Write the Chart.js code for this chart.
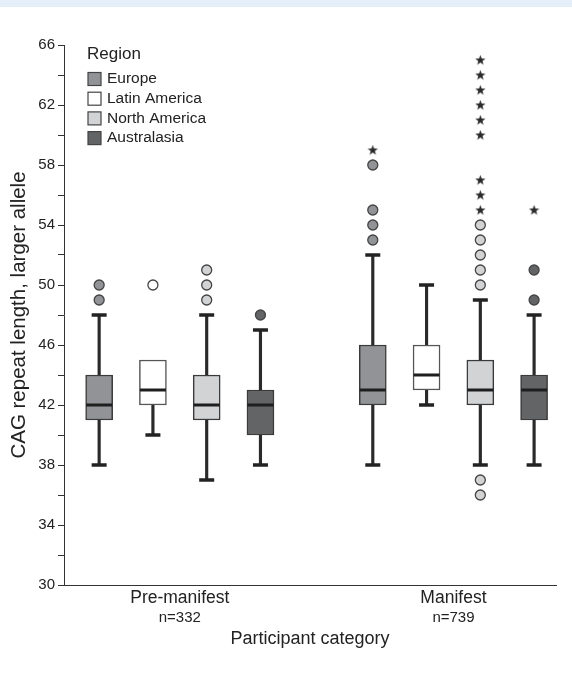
<!DOCTYPE html>
<html><head><meta charset="utf-8">
<script src="https://cdn.jsdelivr.net/npm/chart.js@4"></script>
<style>
html,body{margin:0;padding:0;background:#fff;}
#band{position:absolute;left:0;top:0;width:572px;height:7px;background:#e5eff9;}
#wrap{position:absolute;left:0;top:0;width:572px;height:677px;}
</style></head><body>
<div id="wrap"><canvas id="c" width="572" height="677"></canvas></div>
<div id="band"></div>
<script>
// ---- data ----
const categories = ['Pre-manifest', 'Manifest'];
const sampleSizes = ['n=332', 'n=739'];
const regions = ['Europe', 'Latin America', 'North America', 'Australasia'];
const yTicks = [30, 34, 38, 42, 46, 50, 54, 58, 62, 66];

// five-number summaries per category: [min, q1, median, q3, max]
const europeFive = [[38, 41, 42, 44, 48], [38, 42, 43, 46, 52]];
const latinFive = [[40, 42, 43, 45, 45], [42, 43, 44, 46, 50]];
const northFive = [[37, 41, 42, 44, 48], [38, 42, 43, 45, 49]];
const australFive = [[38, 40, 42, 43, 47], [38, 41, 43, 44, 48]];

// outliers (circles) per category
const europeOutliers = [[49, 50], [53, 54, 55, 58]];
const latinOutliers = [[50], []];
const northOutliers = [[49, 50, 51], [36, 37, 50, 51, 52, 53, 54]];
const australOutliers = [[48], [49, 51]];

// extreme values (stars) per category
const europeExtremes = [[], [59]];
const latinExtremes = [[], []];
const northExtremes = [[], [55, 56, 57, 60, 61, 62, 63, 64, 65]];
const australExtremes = [[], [55]];

// ---- styling / layout ----
const fiveByRegion = [europeFive, latinFive, northFive, australFive];
const outByRegion = [europeOutliers, latinOutliers, northOutliers, australOutliers];
const extByRegion = [europeExtremes, latinExtremes, northExtremes, australExtremes];
const regionColors = ['#929396', '#ffffff', '#d2d3d5', '#636466'];
const FONT = "'Liberation Sans', Arial, Helvetica, sans-serif";
const STEP = 0.1965;
const pos = (c, r) => c + (r - 1.5) * STEP;

// star point image
const star = document.createElement('canvas');
star.width = 11; star.height = 11;
(function () {
  const g = star.getContext('2d');
  g.fillStyle = '#2a2a2a';
  g.beginPath();
  for (let i = 0; i < 10; i++) {
    const rad = i % 2 === 0 ? 5.4 : 2.2;
    const a = -Math.PI / 2 + i * Math.PI / 5;
    const px = 5.5 + rad * Math.cos(a), py = 5.8 + rad * Math.sin(a);
    if (i === 0) g.moveTo(px, py); else g.lineTo(px, py);
  }
  g.closePath();
  g.fill();
})();

const datasets = [];
const whiskerData = [];
const capData = [];
const medianData = [];
fiveByRegion.forEach((five, r) => {
  five.forEach((f, c) => {
    if (f[0] !== f[1]) {
      whiskerData.push({x: pos(c, r), y: [f[0], f[1]]});
      capData.push({x: pos(c, r), y: f[0]});
    }
    if (f[4] !== f[3]) {
      whiskerData.push({x: pos(c, r), y: [f[3], f[4]]});
      capData.push({x: pos(c, r), y: f[4]});
    }
    medianData.push({x: pos(c, r), y: f[2]});
  });
});
datasets.push({type: 'bar', label: 'whiskers', data: whiskerData, backgroundColor: '#2a2a2a',
  barThickness: 2.5, grouped: false, order: 10});
datasets.push({type: 'scatter', label: 'caps', data: capData, pointStyle: 'line', radius: 7.5,
  borderWidth: 3.5, borderColor: '#222', order: 9});
fiveByRegion.forEach((five, r) => {
  datasets.push({type: 'bar', label: regions[r],
    data: five.map((f, c) => ({x: pos(c, r), y: [f[1], f[3]]})),
    backgroundColor: regionColors[r], borderColor: r === 1 ? '#555' : '#3a3a3a', borderWidth: 1.5,
    borderSkipped: false, barThickness: 27, grouped: false, order: 8});
});
datasets.push({type: 'scatter', label: 'medians', data: medianData, pointStyle: 'line', radius: 13,
  borderWidth: 3, borderColor: '#1e1e1e', order: 7});
outByRegion.forEach((outs, r) => {
  const d = [];
  outs.forEach((vals, c) => vals.forEach(v => d.push({x: pos(c, r), y: v})));
  datasets.push({type: 'scatter', label: regions[r] + ' outliers', data: d, pointStyle: 'circle',
    radius: 5, borderWidth: 1.3, borderColor: '#444', backgroundColor: regionColors[r], order: 6});
});
{
  const d = [];
  extByRegion.forEach((exts, r) => exts.forEach((vals, c) => vals.forEach(v => d.push({x: pos(c, r), y: v}))));
  datasets.push({type: 'scatter', label: 'extremes', data: d, pointStyle: star, order: 5});
}

const legendPlugin = {
  id: 'regionLegend',
  afterDraw(chart) {
    const ctx = chart.ctx;
    ctx.save();
    ctx.textBaseline = 'middle';
    ctx.textAlign = 'left';
    ctx.fillStyle = '#222';
    ctx.font = '17px ' + FONT;
    ctx.fillText('Region', 87, 54);
    regions.forEach((name, i) => {
      const y = 79 + i * 19.7;
      ctx.fillStyle = regionColors[i];
      ctx.fillRect(88, y - 6.5, 13, 13);
      ctx.strokeStyle = '#444';
      ctx.lineWidth = 1.2;
      ctx.strokeRect(88, y - 6.5, 13, 13);
      ctx.fillStyle = '#222';
      ctx.font = '15.5px ' + FONT;
      ctx.fillText(name, 107, y);
    });
    ctx.restore();
  }
};

const xMin = -0.4232, xMax = 1.3748;
new Chart(document.getElementById('c'), {
  type: 'bar',
  data: {datasets},
  plugins: [legendPlugin],
  options: {
    responsive: false,
    animation: false,
    events: [],
    layout: {padding: {left: 0, right: 12, top: 45, bottom: 27}},
    plugins: {legend: {display: false}, tooltip: {enabled: false}},
    scales: {
      x: {
        type: 'linear', position: 'bottom', min: xMin, max: xMax, offset: false, bounds: 'data',
        afterBuildTicks: s => { s.ticks = categories.map((c, i) => ({value: i})); },
        afterFit: s => { s.height = 23; },
        grid: {display: false, drawTicks: false, tickLength: 0},
        border: {display: true, color: '#333', width: 1},
        ticks: {callback: v => categories[v], font: {size: 17.5, family: FONT}, color: '#222',
          padding: 3, maxRotation: 0, autoSkip: false}
      },
      x2: {
        type: 'linear', position: 'bottom', min: xMin, max: xMax, offset: false, bounds: 'data',
        afterBuildTicks: s => { s.ticks = sampleSizes.map((c, i) => ({value: i})); },
        afterFit: s => { s.height = 42; },
        grid: {display: false, drawTicks: false, tickLength: 0},
        border: {display: false},
        ticks: {callback: v => sampleSizes[v], font: {size: 15, family: FONT}, color: '#222',
          padding: 1, maxRotation: 0, autoSkip: false},
        title: {display: true, text: 'Participant category', font: {size: 18, family: FONT},
          color: '#222', padding: {top: 0, bottom: 0}}
      },
      y: {
        type: 'linear', min: 30, max: 66,
        afterFit: s => { s.width = 64; },
        grid: {drawOnChartArea: false, tickLength: 6, color: '#333', lineWidth: 1},
        border: {display: true, color: '#333', width: 1},
        ticks: {stepSize: 2, callback: v => yTicks.includes(v) ? String(v) : '',
          font: {size: 15, family: FONT}, color: '#222', padding: 3},
        title: {display: true, text: 'CAG repeat length, larger allele', font: {size: 20.5, family: FONT},
          color: '#222', padding: {top: 7, bottom: 0}}
      }
    }
  }
});
</script>
</body></html>
